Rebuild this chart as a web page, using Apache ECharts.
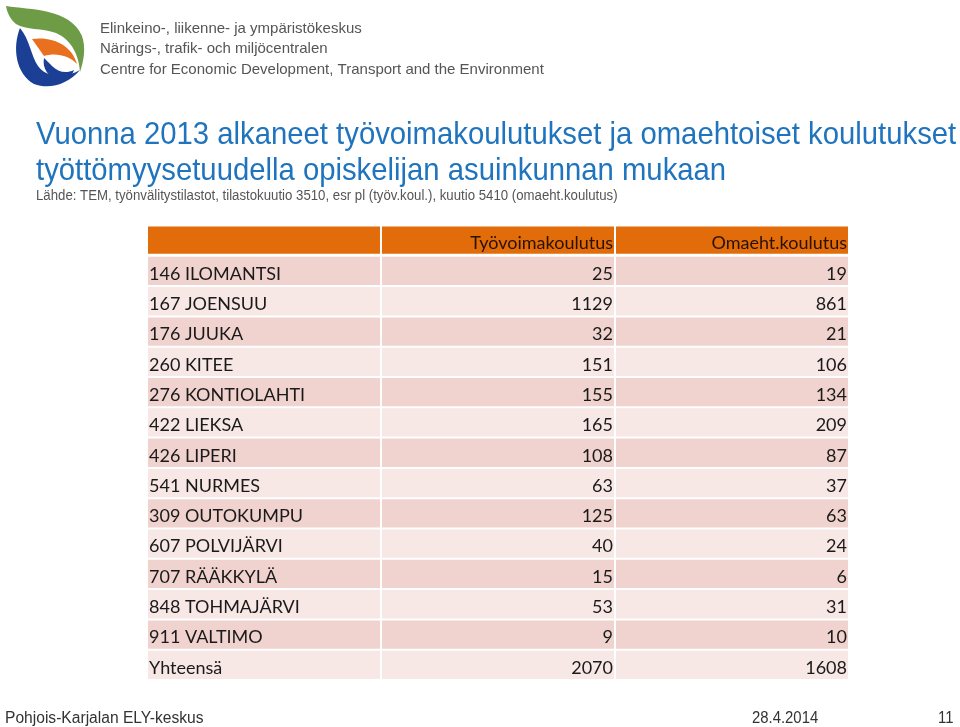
<!DOCTYPE html>
<html><head><meta charset="utf-8">
<script src="https://cdn.jsdelivr.net/npm/echarts@6/dist/echarts.min.js"></script>
<style>html,body{margin:0;padding:0;background:#fff}#c{width:960px;height:727px}</style>
</head><body><div id="c"></div>
<script>
// ---- data ----
var columns = ['', 'Työvoimakoulutus', 'Omaeht.koulutus'];
var municipalities = ['146 ILOMANTSI','167 JOENSUU','176 JUUKA','260 KITEE','276 KONTIOLAHTI','422 LIEKSA','426 LIPERI','541 NURMES','309 OUTOKUMPU','607 POLVIJÄRVI','707 RÄÄKKYLÄ','848 TOHMAJÄRVI','911 VALTIMO','Yhteensä'];
var tyovoimakoulutus = [25,1129,32,151,155,165,108,63,125,40,15,53,9,2070];
var omaehtKoulutus = [19,861,21,106,134,209,87,37,63,24,6,31,10,1608];

var rowLabels = ['header'].concat(municipalities);
var cells = [];
columns.forEach(function(t, c){ cells.push([c, 0, t]); });
municipalities.forEach(function(m, i){
  cells.push([0, i+1, m]);
  cells.push([1, i+1, String(tyovoimakoulutus[i])]);
  cells.push([2, i+1, String(omaehtKoulutus[i])]);
});

var HEADER = '#E26B0A', DARK = '#F0D3CF', LIGHT = '#F7E7E5';
var tableFont = 'Lato';

function renderItem(params, api){
  var col = api.value(0) - 0.5, row = api.value(1);
  var txt = cells[params.dataIndex][2];
  var p = api.coord([col, row]);
  var s = api.size([1, 1]);
  var x = p[0], y = p[1] - s[1]/2;
  var w = s[0] - 2, h = s[1] - (row === 0 ? 3 : 2);
  var fill = row === 0 ? HEADER : (row % 2 === 1 ? DARK : LIGHT);
  var isLeft = col === 0;
  return {
    type: 'group',
    children: [
      {type:'rect', shape:{x:x, y:y, width:w, height:h}, style:{fill:fill}},
      {type:'text', style:{
        text: txt, x: isLeft ? x + 1 : x + w - 1, y: y + h/2 + 3,
        align: isLeft ? 'left' : 'right', verticalAlign:'middle',
        fill: row === 0 ? '#2a1200' : '#1a1a1a',
        font: '18px ' + tableFont
      }}
    ]
  };
}

function renderLogo(){
  return {type:'group', children:[
    {type:'path', shape:{pathData:'M6,6 C30,10 70,8 82,36 C86,48 84,60 80,72 C79,56 72,40 56,33 C42,28 26,30 16,24 C10,19 7,12 6,6 Z'}, style:{fill:'#6E9B45'}},
    {type:'path', shape:{pathData:'M20,28 C12,48 16,74 34,84 C50,90 68,84 80,70 C66,78 46,78 38,66 C31,56 30,40 20,28 Z'}, style:{fill:'#1B3F95'}},
    {type:'path', shape:{pathData:'M32,39 C52,36 72,45 77,64 C70,56 56,52 44,56 C40,50 36,45 32,39 Z'}, style:{fill:'#E8701E'}},
    {type:'path', shape:{pathData:'M44,58 C42,68 48,78 60,80 C68,80 72,76 74,70 C66,74 58,72 52,66 C48,62 46,60 44,58 Z'}, style:{fill:'#1B3F95'}}
  ]};
}

var chart = echarts.init(document.getElementById('c'), null, {renderer:'canvas'});
var blue = '#1F74BD';
chart.setOption({
  backgroundColor:'#ffffff',
  animation:false,
  grid:{left:148, top:226.5, width:702, height:454.5},
  xAxis:{type:'value', min:0, max:3, show:false},
  yAxis:{type:'category', data:rowLabels, inverse:true, show:false},
  series:[
    {type:'custom', renderItem:renderItem, data:cells.map(function(d){return [d[0]+0.5, d[1]];}), encode:{x:0,y:1}, silent:true},
    {type:'custom', coordinateSystem:'none', renderItem:renderLogo, data:[[0]], silent:true}
  ],
  graphic:[
    {type:'text', left:100, top:21, style:{text:'Elinkeino-, liikenne- ja ympäristökeskus', font:'15px "Liberation Sans"', fill:'#555555'}},
    {type:'text', left:100, top:41, style:{text:'Närings-, trafik- och miljöcentralen', font:'15px "Liberation Sans"', fill:'#555555'}},
    {type:'text', left:100, top:62, style:{text:'Centre for Economic Development, Transport and the Environment', font:'15px "Liberation Sans"', fill:'#555555'}},
    {type:'text', x:36, y:119, scaleX:0.915, style:{text:'Vuonna 2013 alkaneet työvoimakoulutukset ja omaehtoiset koulutukset', font:'32px "Liberation Sans"', fill:blue}},
    {type:'text', x:36, y:155, scaleX:0.915, style:{text:'työttömyysetuudella opiskelijan asuinkunnan mukaan', font:'32px "Liberation Sans"', fill:blue}},
    {type:'text', x:36, y:189, scaleX:0.944, style:{text:'Lähde: TEM, työnvälitystilastot, tilastokuutio 3510, esr pl (työv.koul.), kuutio 5410 (omaeht.koulutus)', font:'14px "Liberation Sans"', fill:'#555555'}},
    {type:'text', x:5, y:711, scaleX:0.975, style:{text:'Pohjois-Karjalan ELY-keskus', font:'16px "Liberation Sans"', fill:'#333333'}},
    {type:'text', x:752, y:711, scaleX:0.93, style:{text:'28.4.2014', font:'16px "Liberation Sans"', fill:'#333333'}},
    {type:'text', x:938, y:711, scaleX:0.93, style:{text:'11', font:'16px "Liberation Sans"', fill:'#333333'}}
  ]
});
</script></body></html>
